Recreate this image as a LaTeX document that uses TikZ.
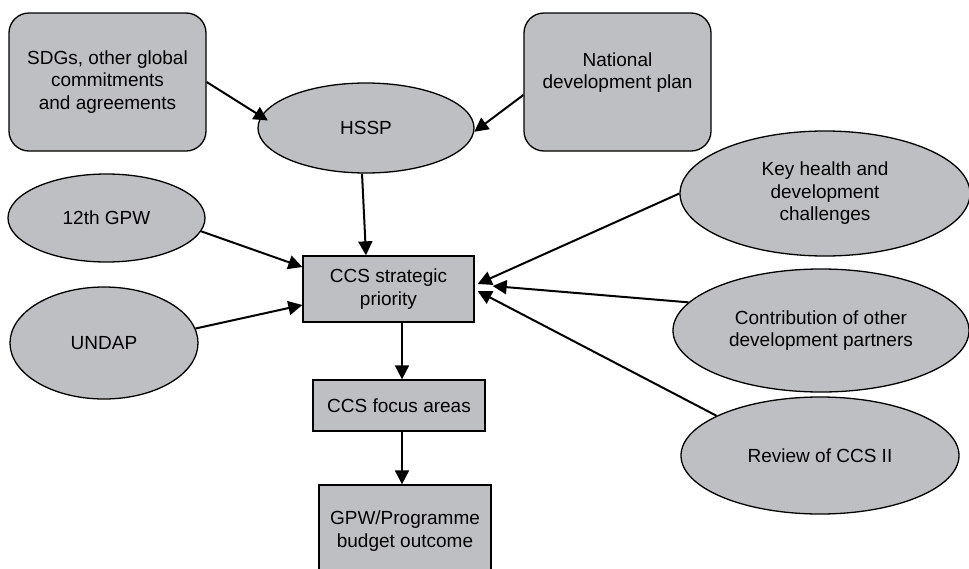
\documentclass[tikz,border=0pt]{standalone}
\usepackage{fontspec}
\setmainfont{Liberation Sans}
\usetikzlibrary{shapes.geometric,arrows.meta}
\definecolor{boxgray}{RGB}{190,191,194}
\begin{document}
\begin{tikzpicture}[x=1pt,y=-1pt,
  base/.style={font=\fontsize{19}{22.5}\selectfont, align=center, inner sep=0pt,
    draw=black, line width=1.3pt, fill=boxgray},
  rbox/.style={base, rectangle, rounded corners=20pt},
  sbox/.style={base, rectangle},
  ell/.style={base, ellipse},
  arr/.style={line width=2pt, -{Triangle[length=14pt,width=14pt]}}]
\useasboundingbox (0,0) rectangle (969,568);

\node[rbox, minimum width=197pt, minimum height=138pt] (sdg) at (107.5,82)
  {SDGs, other global\\commitments\\and agreements};
\node[rbox, minimum width=187pt, minimum height=138pt] (nat) at (617.5,82)
  {National\\development plan\\\mbox{}};
\node[ell, minimum width=216pt, minimum height=90pt] (hssp) at (366,128) {HSSP};
\node[ell, minimum width=197pt, minimum height=88pt] (gpw12) at (106.5,218) {12th GPW};
\node[ell, minimum width=188pt, minimum height=112pt] (undap) at (104,343) {UNDAP};
\node[sbox, minimum width=171pt, minimum height=66pt] (ccs) at (388.5,289)
  {CCS strategic\\priority};
\node[sbox, minimum width=172pt, minimum height=51pt] (focus) at (399,405.5)
  {CCS focus areas};
\node[sbox, minimum width=172pt, minimum height=92pt] (gpwb) at (405,531)
  {GPW/Programme\\budget outcome};
\node[ell, minimum width=290pt, minimum height=125pt] (key) at (825,193.5)
  {Key health and\\development\\challenges};
\node[ell, minimum width=296pt, minimum height=123pt] (contrib) at (821,330.5)
  {Contribution of other\\development partners};
\node[ell, minimum width=278pt, minimum height=117pt] (review) at (820,455.5)
  {Review of CCS II};

\draw[arr] (sdg.east) -- ([xshift=9pt]hssp.176);
\draw[arr] ([yshift=-13pt]nat.west) -- (hssp.-2);
\draw[arr] (hssp.265) -- ([xshift=-22.5pt]ccs.north);
\draw[arr] (gpw12.-8) -- ([yshift=22pt]ccs.west);
\draw[arr] (undap.9) -- ([yshift=-16pt]ccs.west);
\draw[arr] (key.west) -- ([xshift=3pt,yshift=5pt]ccs.east);
\draw[arr] (contrib.168) -- ([xshift=18pt,yshift=3pt]ccs.east);
\draw[arr] (review.159) -- ([xshift=3pt,yshift=-2pt]ccs.east);
\draw[arr] ([xshift=3pt]focus.north |- ccs.south) -- ([xshift=3pt]focus.north);
\draw[arr] ([xshift=3pt]focus.south) -- ([xshift=3pt]focus.south |- gpwb.north);
\end{tikzpicture}
\end{document}
